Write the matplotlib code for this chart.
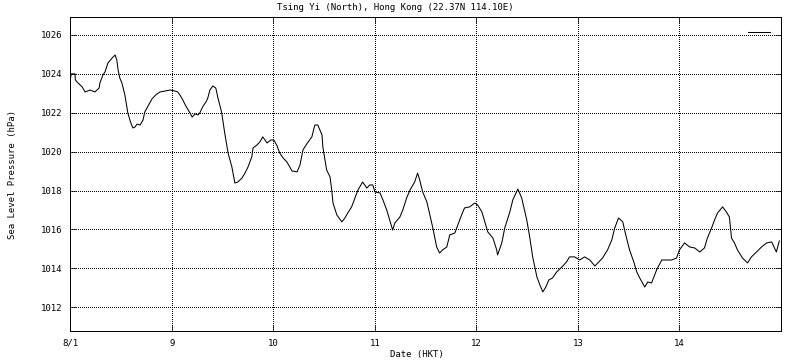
import matplotlib
matplotlib.use("Agg")
import matplotlib.pyplot as plt

# --- data (hours from 8/1 00:00 HKT, hPa) ---
hours = [0.0, 0.2, 1.1, 1.2, 1.6, 2.3, 2.8, 3.5, 4.7, 5.8, 6.8, 7.0, 7.7, 8.2, 8.9,
         9.9, 10.6, 11.0, 11.3, 11.7, 12.2, 12.9, 13.6, 14.3, 14.8, 15.3, 15.8, 16.5,
         17.2, 17.6, 18.4, 19.3, 20.2, 21.2, 22.4, 23.6, 24.7, 25.4, 25.9, 26.6, 27.3,
         28.3, 28.8, 29.5, 30.2, 30.6, 31.4, 32.1, 32.5, 33.0, 33.7, 34.4, 34.9, 35.4,
         35.8, 36.5, 37.3, 38.2, 38.9, 39.6, 40.6, 41.3, 42.0, 42.9, 43.2, 44.1, 44.8,
         45.5, 46.5, 47.4, 48.1, 48.8, 49.5, 50.3, 51.2, 51.9, 52.4, 53.6, 54.3, 55.0,
         55.9, 57.1, 57.8, 58.5, 59.5, 59.7, 60.6, 61.4, 61.8, 62.1, 63.0, 64.2, 64.9,
         65.6, 66.5, 67.3, 68.0, 69.1, 70.1, 70.8, 71.5, 72.0, 73.2, 73.9, 74.8, 75.5,
         76.2, 76.7, 77.9, 78.6, 79.5, 80.3, 81.4, 82.1, 82.6, 83.3, 84.3, 85.0, 85.7,
         86.6, 87.3, 88.0, 89.0, 89.7, 90.9, 91.6, 92.5, 93.2, 94.4, 95.6, 96.3, 97.3,
         98.0, 98.7, 99.9, 100.8, 101.0, 102.0, 102.7, 103.9, 104.6, 105.8, 106.7,
         107.9, 108.6, 109.3, 110.3, 111.0, 111.7, 112.4, 113.1, 114.0, 115.0, 116.2,
         117.3, 118.0, 119.2, 120.4, 121.6, 122.8, 124.0, 124.7, 125.8, 127.0, 128.0,
         128.7, 129.6, 130.6, 131.3, 132.2, 133.2, 133.9, 134.6, 135.8, 136.5, 137.4,
         138.6, 139.8, 141.0, 142.1, 143.3, 144.0, 145.2, 146.4, 147.6, 148.8, 149.9,
         150.6, 151.6, 152.3, 153.0, 154.2, 155.1, 155.8, 156.3, 157.0, 157.7, 158.9,
         160.1, 161.0, 162.2, 163.4, 164.6, 165.8, 166.9, 167.6]
pressure = [1023.69, 1024.00, 1024.00, 1023.69, 1023.58, 1023.43, 1023.33, 1023.07,
            1023.17, 1023.07, 1023.27, 1023.53, 1023.94, 1024.10, 1024.56, 1024.82,
            1024.97, 1024.71, 1024.20, 1023.79, 1023.53, 1022.92, 1021.99, 1021.48,
            1021.22, 1021.27, 1021.42, 1021.37, 1021.63, 1022.04, 1022.35, 1022.71,
            1022.92, 1023.07, 1023.12, 1023.17, 1023.12, 1023.07, 1022.92, 1022.66,
            1022.35, 1021.99, 1021.78, 1021.94, 1021.89, 1021.99, 1022.35, 1022.56,
            1022.76, 1023.17, 1023.38, 1023.27, 1022.76, 1022.35, 1021.99, 1020.96,
            1019.93, 1019.21, 1018.39, 1018.44, 1018.65, 1018.90, 1019.21, 1019.73,
            1020.19, 1020.34, 1020.50, 1020.76, 1020.45, 1020.60, 1020.60, 1020.34,
            1019.93, 1019.68, 1019.47, 1019.21, 1019.01, 1018.96, 1019.32, 1020.09,
            1020.40, 1020.76, 1021.37, 1021.37, 1020.86, 1020.24, 1019.06, 1018.70,
            1018.03, 1017.36, 1016.75, 1016.39, 1016.59, 1016.85, 1017.16, 1017.62,
            1018.03, 1018.44, 1018.13, 1018.29, 1018.29, 1017.93, 1017.88, 1017.52,
            1017.00, 1016.49, 1015.97, 1016.33, 1016.64, 1017.00, 1017.62, 1018.03,
            1018.44, 1018.90, 1018.54, 1017.93, 1017.41, 1016.75, 1016.08, 1015.10,
            1014.79, 1014.95, 1015.10, 1015.72, 1015.82, 1016.23, 1016.75, 1017.11,
            1017.16, 1017.36, 1017.26, 1016.90, 1016.39, 1015.87, 1015.56, 1014.95,
            1014.69, 1015.31, 1016.08, 1016.90, 1017.52, 1018.08, 1017.62, 1016.49,
            1015.61, 1014.59, 1013.56, 1013.15, 1012.79, 1013.04, 1013.40, 1013.51,
            1013.82, 1014.07, 1014.33, 1014.59, 1014.59, 1014.43, 1014.59, 1014.43,
            1014.12, 1014.28, 1014.53, 1014.95, 1015.46, 1016.08, 1016.59, 1016.39,
            1015.72, 1014.95, 1014.33, 1013.82, 1013.51, 1013.04, 1013.30, 1013.25,
            1013.92, 1014.43, 1014.43, 1014.43, 1014.53, 1014.95, 1015.31, 1015.10,
            1015.05, 1014.84, 1015.05, 1015.56, 1016.08, 1016.49, 1016.85, 1017.16,
            1016.90, 1016.64, 1015.56, 1015.31, 1014.95, 1014.53, 1014.28, 1014.59,
            1014.84, 1015.10, 1015.31, 1015.36, 1014.84, 1015.41]

day_ticks = [0, 24, 48, 72, 96, 120, 144]
day_labels = ['8/1', '9', '10', '11', '12', '13', '14']
p_ticks = [1012, 1014, 1016, 1018, 1020, 1022, 1024, 1026]

titre = 'Tsing Yi (North), Hong Kong (22.37N 114.10E)'
fs = 6.5
lw = 0.5
plt.rcParams['font.family'] = 'DejaVu Sans Mono'

fig = plt.figure(figsize=(8, 3.6), dpi=100)
ax = fig.add_axes([70.3/800, 1-331/360, (781-70.3)/800, (331-16.7)/360])

ax.plot(hours, pressure, color='black', lw=0.75, label=' ', antialiased=True)

ax.set_xlim(0, 168)
ax.set_ylim(1010.78, 1026.94)
ax.set_xticks(day_ticks)
ax.set_xticklabels(day_labels)
ax.set_yticks(p_ticks)
ax.tick_params(direction='in', length=4.5, width=lw, top=True, right=True,
               labelsize=fs, pad=5.5)
# dots: 1 px on, 2 px off
ax.grid(True, color='black', linestyle=(0, (1.44, 2.88)), linewidth=lw, antialiased=False)
for sp in ax.spines.values():
    sp.set_linewidth(0.72)
    sp.set_antialiased(False)

fig.text(395/800, 1-7/360, titre, ha='center', va='center', fontsize=fs)
fig.text(13/800, 1-174/360, 'Sea Level Pressure (hPa)', rotation=90,
         ha='center', va='center', fontsize=fs)
fig.text(417/800, 1-354/360, 'Date (HKT)', ha='center', va='center', fontsize=fs)

leg = ax.legend(loc='center left', bbox_to_anchor=(748/800, 1-32.3/360),
                bbox_transform=fig.transFigure, frameon=False, fontsize=fs,
                handlelength=2.45, borderpad=0, borderaxespad=0, handletextpad=0.3)

fig.savefig('out.png', dpi=100)
